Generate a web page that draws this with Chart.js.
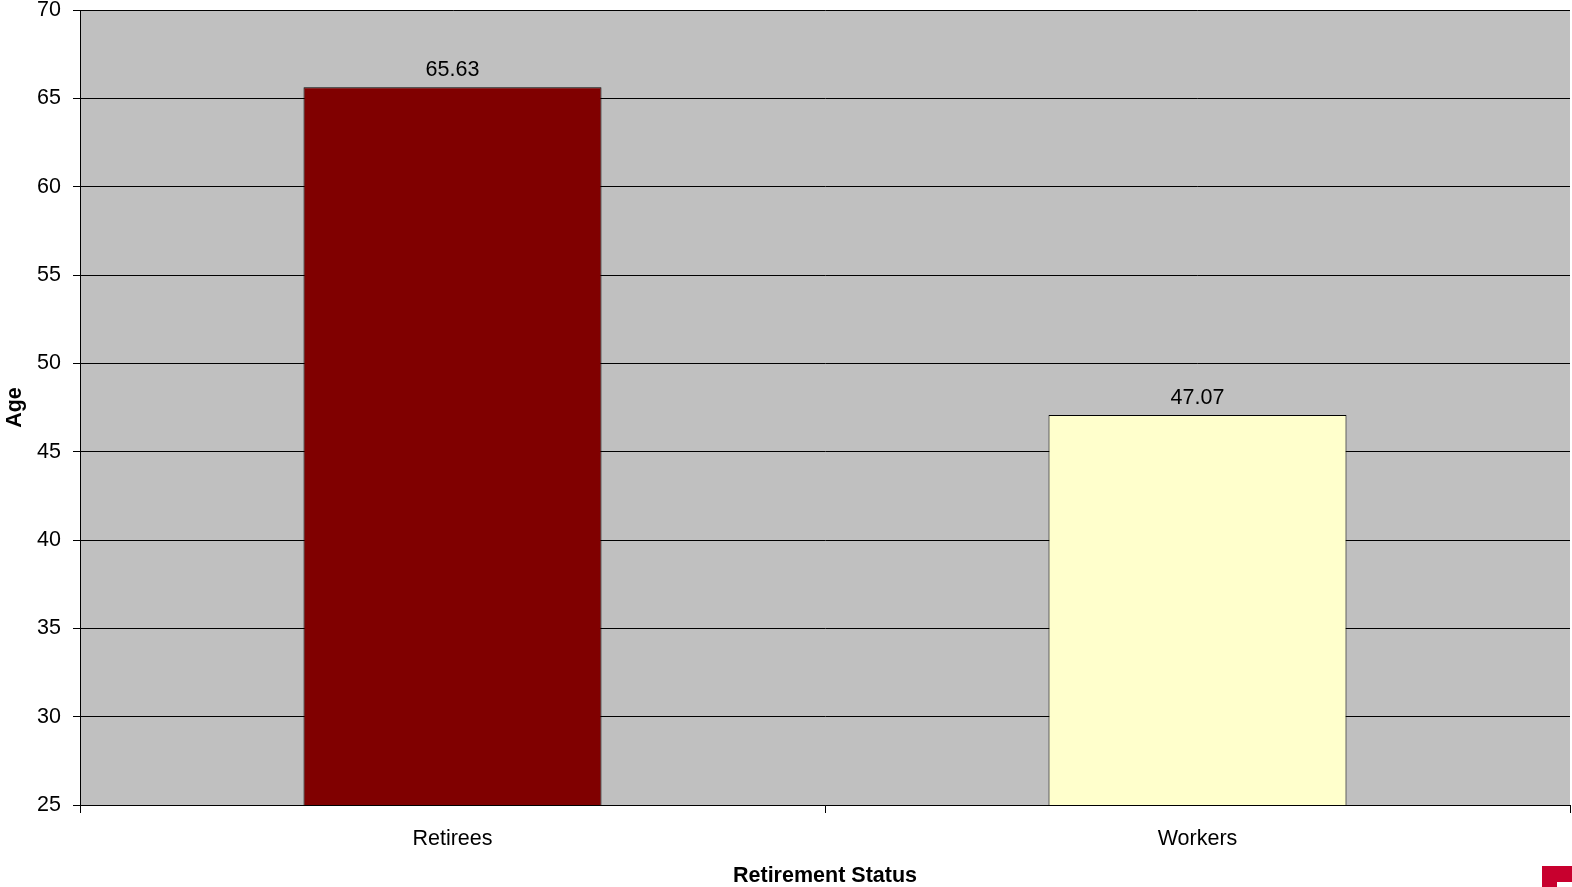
<!DOCTYPE html>
<html>
<head>
<meta charset="utf-8">
<script src="https://cdn.jsdelivr.net/npm/chart.js@4/dist/chart.umd.min.js"></script>
<style>
  html, body { margin: 0; padding: 0; background: #ffffff; }
  #wrap { position: relative; width: 1572px; height: 887px; }
  #logo { position: absolute; right: 0; bottom: 0; width: 30px; height: 21px; background: #c8002e; }
  #logo span { position: absolute; right: 0; bottom: 0; width: 15px; height: 5px; background: #ffffff; }
</style>
</head>
<body>
<div id="wrap">
  <canvas id="c" width="1572" height="887"></canvas>
  <div id="logo"><span></span></div>
</div>
<script>
const categories = ["Retirees", "Workers"];
const ageValues = [65.63, 47.07];
const barColors = ["#800000", "#FFFFCC"];
const yMin = 25, yMax = 70, yStep = 5;
const xTitle = "Retirement Status";
const yTitle = "Age";

const FONT = "'Liberation Sans', Arial, sans-serif";
const FS = 21.5;

const bgPlugin = {
  id: 'bg',
  beforeDraw(chart) {
    const { ctx, chartArea: a } = chart;
    ctx.save();
    ctx.fillStyle = '#C0C0C0';
    ctx.fillRect(a.left, a.top, a.right - a.left, a.bottom - a.top);
    ctx.restore();
  }
};

const labelPlugin = {
  id: 'vals',
  afterDatasetsDraw(chart) {
    const { ctx } = chart;
    const meta = chart.getDatasetMeta(0);
    ctx.save();
    ctx.font = FS + 'px ' + FONT;
    ctx.fillStyle = '#000';
    ctx.textAlign = 'center';
    ctx.textBaseline = 'alphabetic';
    meta.data.forEach((bar, i) => {
      ctx.fillText(ageValues[i].toFixed(2), bar.x, bar.y - 11);
    });
    ctx.restore();
  }
};

new Chart(document.getElementById('c'), {
  type: 'bar',
  data: {
    labels: categories,
    datasets: [{
      data: ageValues,
      backgroundColor: barColors,
      borderColor: '#000',
      borderWidth: 1,
      borderSkipped: false,
      barPercentage: 0.4,
      categoryPercentage: 1.0
    }]
  },
  options: {
    responsive: false,
    animation: false,
    devicePixelRatio: 1,
    layout: { padding: { top: 10, right: 2, left: 0, bottom: 0 } },
    plugins: { legend: { display: false }, tooltip: { enabled: false } },
    scales: {
      x: {
        offset: true,
        grid: { offset: true, drawOnChartArea: false, drawTicks: true, tickLength: 8, color: '#000', lineWidth: 1 },
        border: { display: true, color: '#000', width: 1 },
        ticks: { color: '#000', font: { family: FONT, size: FS }, padding: 13, maxRotation: 0 },
        title: { display: true, text: xTitle, color: '#000', font: { family: FONT, size: FS, weight: 'bold' }, padding: { top: 0, bottom: -2 } },
        afterFit(s) { s.height = 82; s.paddingLeft = 0; s.paddingRight = 0; }
      },
      y: {
        min: yMin, max: yMax,
        grid: { color: '#000', lineWidth: 1, drawTicks: true, tickLength: 7 },
        border: { display: true, color: '#000', width: 1 },
        ticks: { stepSize: yStep, color: '#000', font: { family: FONT, size: FS }, padding: 12 },
        title: { display: true, text: yTitle, color: '#000', font: { family: FONT, size: FS, weight: 'bold' }, padding: { top: 2, bottom: 0 } },
        afterFit(s) { s.width = 80; s.paddingTop = 0; s.paddingBottom = 0; }
      }
    }
  },
  plugins: [bgPlugin, labelPlugin]
});
</script>
</body>
</html>
